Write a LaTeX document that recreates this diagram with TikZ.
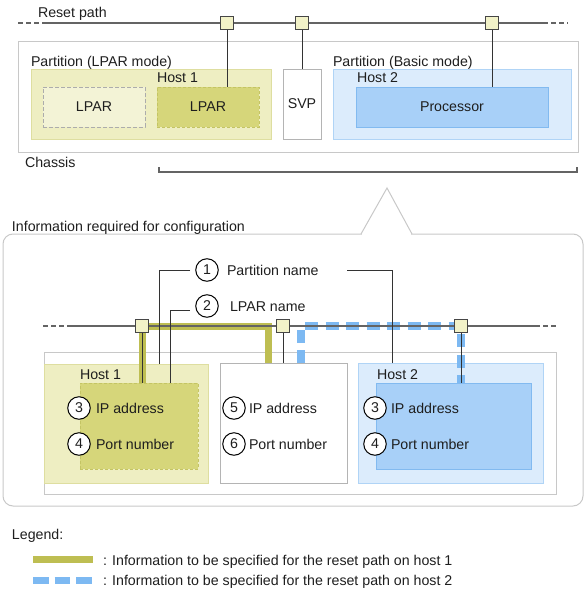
\documentclass[tikz,border=0pt]{standalone}
\usepackage{fontspec}
\setmainfont{Liberation Sans}
\definecolor{framegray}{RGB}{200,200,200}
\definecolor{svpgray}{RGB}{180,180,180}
\definecolor{ypartfill}{RGB}{238,238,194}
\definecolor{ypartline}{RGB}{222,222,160}
\definecolor{ylparfill}{RGB}{214,214,122}
\definecolor{ylparline}{RGB}{196,196,100}
\definecolor{glparfill}{RGB}{243,243,214}
\definecolor{glparline}{RGB}{172,172,172}
\definecolor{bpartfill}{RGB}{220,236,252}
\definecolor{bpartline}{RGB}{176,212,246}
\definecolor{bprocfill}{RGB}{168,208,248}
\definecolor{bprocline}{RGB}{130,186,240}
\definecolor{sqfill}{RGB}{242,242,200}
\definecolor{sqline}{RGB}{70,70,70}
\definecolor{resetgray}{RGB}{100,100,100}
\definecolor{olivec}{RGB}{190,190,82}
\definecolor{bluec}{RGB}{125,185,242}
\definecolor{textc}{RGB}{30,30,30}
\begin{document}
\begin{tikzpicture}[x=1pt,y=-1pt,
  every node/.style={font=\fontsize{14.2}{16}\selectfont, text=textc, inner sep=0pt, outer sep=0pt},
  wh/.style n args={2}{rectangle, minimum width=#1pt, minimum height=#2pt},
  frame/.style={draw=framegray, line width=1pt, fill=white},
  svpbox/.style={draw=svpgray, line width=1pt, fill=white},
  ypart/.style={draw=ypartline, fill=ypartfill, line width=1pt},
  ylpar/.style={draw=ylparline, fill=ylparfill, dash pattern=on 3pt off 2pt, line width=1pt},
  glpar/.style={draw=glparline, fill=glparfill, dash pattern=on 4pt off 2pt, line width=1pt},
  bpart/.style={draw=bpartline, fill=bpartfill, line width=1pt},
  bproc/.style={draw=bprocline, fill=bprocfill, line width=1pt},
  sq/.style={rectangle, draw=sqline, fill=sqfill, minimum size=13pt, line width=1pt},
  num/.style={circle, draw=black, fill=white, minimum size=22.5pt, line width=1pt},
  lbl/.style={anchor=base west},
  reset/.style={draw=resetgray, line width=1.3pt},
  resetdash/.style={draw=resetgray, line width=1.3pt, dash pattern=on 5pt off 3pt},
  conn/.style={draw=black!80, line width=1pt},
  oliveline/.style={draw=olivec, line width=7pt},
  bluedash/.style={draw=bluec, line width=7.5pt, dash pattern=on 13pt off 7.5pt},
  callout/.style={draw=framegray, line width=1pt}
]
\useasboundingbox (0,0) rectangle (587,592);

% ---------- top: chassis ----------
\node[frame, wh={560}{111}] (chassis) at (298,96.5) {};
\node[ypart, wh={240}{70}] (plpar) at (151,104) {};
\node[glpar, wh={102}{40}] (lparA) at (94,107) {LPAR};
\node[ylpar, wh={102}{40}] (lparB) at (208,107) {LPAR};
\node[svpbox, wh={38}{70}] (svp) at (302,104) {SVP};
\node[bpart, wh={238}{70}] (pbasic) at (452,104) {};
\node[bproc, wh={192}{40}] (proc) at (452,107) {Processor};

\node[lbl] (tReset) at (38,17) {Reset path};
\node[lbl] (tPL) at (31,66) {Partition (LPAR mode)};
\node[lbl] (tH1) at (157,82) {Host 1};
\node[lbl] (tPB) at (333,66) {Partition (Basic mode)};
\node[lbl] (tH2) at (357,82) {Host 2};
\node[lbl] (tCh) at (25,167) {Chassis};

\coordinate (rA) at (18,23);
\coordinate (rB) at (43,23);
\coordinate (rC) at (543,23);
\coordinate (rD) at (568,23);
\draw[resetdash] (rA) -- (rB);
\draw[reset] (rB) -- (rC);
\draw[resetdash] (rC) -- (rD);

\node[sq] (s1) at (227,23) {};
\node[sq] (s2) at (302,23) {};
\node[sq] (s3) at (492,23) {};
\draw[conn] (s1.south) -- (s1.south |- lparB.north);
\draw[conn] (s2.south) -- (s2.south |- svp.north);
\draw[conn] (s3.south) -- (s3.south |- proc.north);

% bracket
\coordinate (bL) at (159,172);
\coordinate (bR) at (577,172);
\draw[reset] (159,167) -- (bL) -- (bR) -- (577,167);

% ---------- callout ----------
\draw[callout, rounded corners=10pt] (3,234) rectangle (583,506);
\fill[white] (362,232) rectangle (411,236.5);
\draw[callout] (361,234) -- (387,188) -- (412,234);
\node[lbl] (tInfo) at (12,231) {Information required for configuration};

\node[draw=framegray, line width=1pt, wh={512}{142}] (chassis2) at (300,423) {};
\node[ypart, wh={164}{119}] (host1) at (126,423.5) {};
\node[ylpar, wh={118}{86}] (lparC) at (139,426) {};
\node[svpbox, wh={127}{120}] (svp2) at (283.5,423) {};
\node[bpart, wh={185}{120}] (host2) at (450.5,423) {};
\node[bproc, wh={155}{86}] (procC) at (453.5,426) {};

\node[lbl] (tH1b) at (80,379) {Host 1};
\node[lbl] (tH2b) at (377,379) {Host 2};

\node[num] (n3a) at (79,408) {3};
\node[lbl] (t3a) at (96,413) {IP address};
\node[num] (n4a) at (79,444) {4};
\node[lbl] (t4a) at (96,449) {Port number};
\node[num] (n5) at (234,408) {5};
\node[lbl] (t5) at (249,413) {IP address};
\node[num] (n6) at (234,444) {6};
\node[lbl] (t6) at (249,449) {Port number};
\node[num] (n3b) at (375,408) {3};
\node[lbl] (t3b) at (391,413) {IP address};
\node[num] (n4b) at (375,444) {4};
\node[lbl] (t4b) at (391,449) {Port number};

\node[num] (n1) at (207,270) {1};
\node[lbl] (t1) at (227,275) {Partition name};
\node[num] (n2) at (207,306) {2};
\node[lbl] (t2) at (230,311) {LPAR name};

% reset path 2
\coordinate (j1) at (142,326);
\coordinate (j2) at (283,326);
\coordinate (j3) at (461,326);
\coordinate (oT) at (268,326);
\coordinate (bT) at (301,326);

\draw[oliveline] (j1 |- lparC.north) -- (j1) -- (oT) -- (oT |- svp2.north);
\draw[bluedash] (bT |- svp2.north) -- (bT) -- (j3) -- (j3 |- procC.north);

\draw[resetdash] (43,326) -- (68,326);
\draw[reset] (68,326) -- (535,326);
\draw[resetdash] (535,326) -- (556,326);

\draw[conn] (j1) -- (j1 |- lparC.north);
\draw[conn] (j2) -- (j2 |- svp2.north);
\draw[conn] (j3) -- (j3 |- procC.north);

\node[sq] (s4) at (j1) {};
\node[sq] (s5) at (j2) {};
\node[sq] (s6) at (j3) {};

% leaders
\coordinate (c1a) at (190,270);
\coordinate (c1b) at (159,270);
\coordinate (c1c) at (347,270);
\coordinate (c1d) at (392,270);
\coordinate (c2a) at (190,310);
\coordinate (c2b) at (170,310);
\draw[conn] (c1a) -- (c1b) -- (c1b |- host1.north);
\draw[conn] (c1c) -- (c1d) -- (c1d |- host2.north);
\draw[conn] (c2a) -- (c2b) -- (c2b |- lparC.north);

% ---------- legend ----------
\node[lbl] (tLeg) at (12,539) {Legend:};
\coordinate (l1a) at (33,559);
\coordinate (l1b) at (93,559);
\coordinate (l2a) at (33,580);
\coordinate (l2b) at (93,580);
\draw[oliveline] (l1a) -- (l1b);
\draw[draw=bluec, line width=7pt, dash pattern=on 15.5pt off 6pt] (l2a) -- (l2b);
\node[lbl] (tL1) at (103,565) {: Information to be specified for the reset path on host 1};
\node[lbl] (tL2) at (103,585) {: Information to be specified for the reset path on host 2};
\end{tikzpicture}
\end{document}
